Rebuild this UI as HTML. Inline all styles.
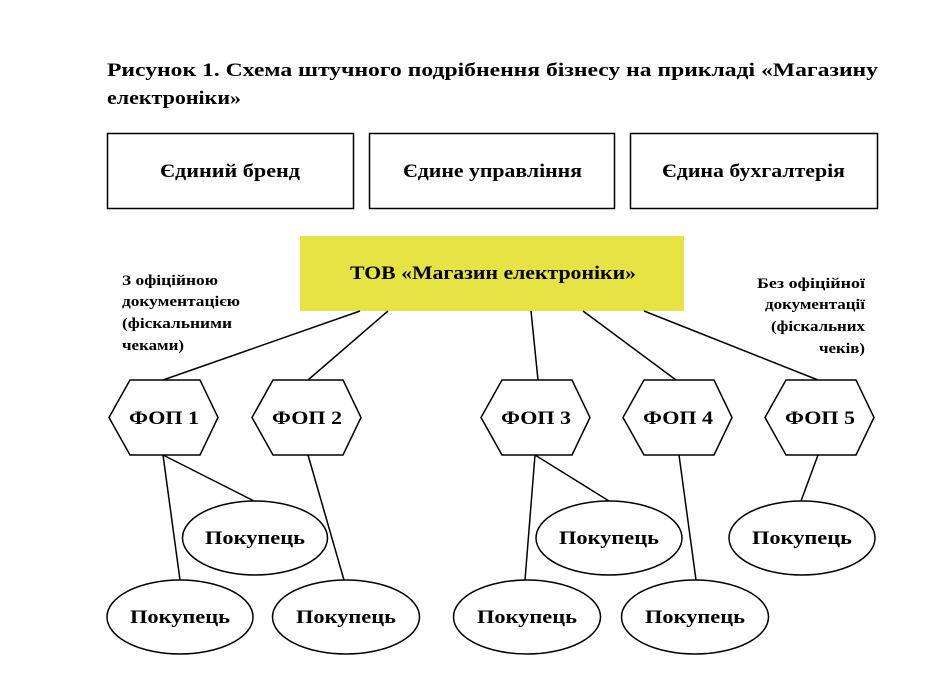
<!DOCTYPE html>
<html><head><meta charset="utf-8"><style>
html,body{margin:0;padding:0;background:#fff;}
svg{display:block;}
text{font-family:"Liberation Serif","DejaVu Serif",serif;font-weight:bold;fill:#000;}
</style></head><body>
<svg width="938" height="674" viewBox="0 0 938 674" xmlns="http://www.w3.org/2000/svg">
<text x="107" y="76" font-size="19" textLength="771" lengthAdjust="spacingAndGlyphs">Рисунок 1. Схема штучного подрібнення бізнесу на прикладі «Магазину</text>
<text x="107" y="104" font-size="19" textLength="134" lengthAdjust="spacingAndGlyphs">електроніки»</text>
<g fill="none" stroke="#000" stroke-width="1.5">
<rect x="107.5" y="133.5" width="246" height="75"/>
<rect x="369.5" y="133.5" width="245" height="75"/>
<rect x="630.5" y="133.5" width="247" height="75"/>
</g>
<g font-size="19" lengthAdjust="spacingAndGlyphs">
<text x="160" y="177" textLength="140" lengthAdjust="spacingAndGlyphs">Єдиний бренд</text>
<text x="403" y="177" textLength="179" lengthAdjust="spacingAndGlyphs">Єдине управління</text>
<text x="662" y="177" textLength="183" lengthAdjust="spacingAndGlyphs">Єдина бухгалтерія</text>
</g>
<rect x="300" y="236" width="384" height="75" fill="#e6e344"/>
<text x="350" y="279" font-size="19" textLength="286" lengthAdjust="spacingAndGlyphs">ТОВ «Магазин електроніки»</text>
<g font-size="15">
<text x="122" y="285" textLength="96" lengthAdjust="spacingAndGlyphs">З офіційною</text>
<text x="122" y="306" textLength="118" lengthAdjust="spacingAndGlyphs">документацією</text>
<text x="122" y="328" textLength="110" lengthAdjust="spacingAndGlyphs">(фіскальними</text>
<text x="122" y="350" textLength="62" lengthAdjust="spacingAndGlyphs">чеками)</text>
<text x="757" y="288" textLength="108" lengthAdjust="spacingAndGlyphs">Без офіційної</text>
<text x="765" y="309" textLength="100" lengthAdjust="spacingAndGlyphs">документації</text>
<text x="771" y="331" textLength="94" lengthAdjust="spacingAndGlyphs">(фіскальних</text>
<text x="819" y="353" textLength="46" lengthAdjust="spacingAndGlyphs">чеків)</text>
</g>
<g stroke="#000" stroke-width="1.5" fill="none">
<line x1="360" y1="311" x2="163" y2="380"/>
<line x1="388" y1="311" x2="308" y2="380"/>
<line x1="531" y1="311" x2="538" y2="380"/>
<line x1="583" y1="311" x2="676" y2="380"/>
<line x1="644" y1="311" x2="818" y2="380"/>
<line x1="163" y1="455" x2="180" y2="580"/>
<line x1="163" y1="455" x2="254" y2="501"/>
<line x1="308" y1="455" x2="344" y2="580"/>
<line x1="535" y1="455" x2="525" y2="580"/>
<line x1="535" y1="455" x2="609" y2="501"/>
<line x1="679" y1="455" x2="696" y2="580"/>
<line x1="818" y1="455" x2="801" y2="501"/>
<polygon points="130,380 200,380 218,417.5 200,455 130,455 109,417.5" fill="#fff"/>
<polygon points="273,380 343,380 361,417.5 343,455 273,455 252,417.5" fill="#fff"/>
<polygon points="502,380 572,380 590,417.5 572,455 502,455 481,417.5" fill="#fff"/>
<polygon points="644,380 714,380 732,417.5 714,455 644,455 623,417.5" fill="#fff"/>
<polygon points="786,380 856,380 874,417.5 856,455 786,455 765,417.5" fill="#fff"/>
<ellipse cx="255" cy="538" rx="72.5" ry="37" fill="#fff"/>
<ellipse cx="180" cy="617" rx="73" ry="37" fill="#fff"/>
<ellipse cx="346" cy="617" rx="73.5" ry="37" fill="#fff"/>
<ellipse cx="609" cy="538" rx="73" ry="37" fill="#fff"/>
<ellipse cx="527" cy="617" rx="73.5" ry="37" fill="#fff"/>
<ellipse cx="695" cy="617" rx="73.5" ry="37" fill="#fff"/>
<ellipse cx="802" cy="538" rx="73" ry="37" fill="#fff"/>
</g>
<g font-size="19">
<text x="129" y="424" textLength="70" lengthAdjust="spacingAndGlyphs">ФОП 1</text>
<text x="272" y="424" textLength="70" lengthAdjust="spacingAndGlyphs">ФОП 2</text>
<text x="501" y="424" textLength="70" lengthAdjust="spacingAndGlyphs">ФОП 3</text>
<text x="643" y="424" textLength="70" lengthAdjust="spacingAndGlyphs">ФОП 4</text>
<text x="785" y="424" textLength="70" lengthAdjust="spacingAndGlyphs">ФОП 5</text>
<text x="205" y="544" textLength="100" lengthAdjust="spacingAndGlyphs">Покупець</text>
<text x="130" y="623" textLength="100" lengthAdjust="spacingAndGlyphs">Покупець</text>
<text x="296" y="623" textLength="100" lengthAdjust="spacingAndGlyphs">Покупець</text>
<text x="559" y="544" textLength="100" lengthAdjust="spacingAndGlyphs">Покупець</text>
<text x="477" y="623" textLength="100" lengthAdjust="spacingAndGlyphs">Покупець</text>
<text x="645" y="623" textLength="100" lengthAdjust="spacingAndGlyphs">Покупець</text>
<text x="752" y="544" textLength="100" lengthAdjust="spacingAndGlyphs">Покупець</text>
</g>
</svg>
</body></html>
